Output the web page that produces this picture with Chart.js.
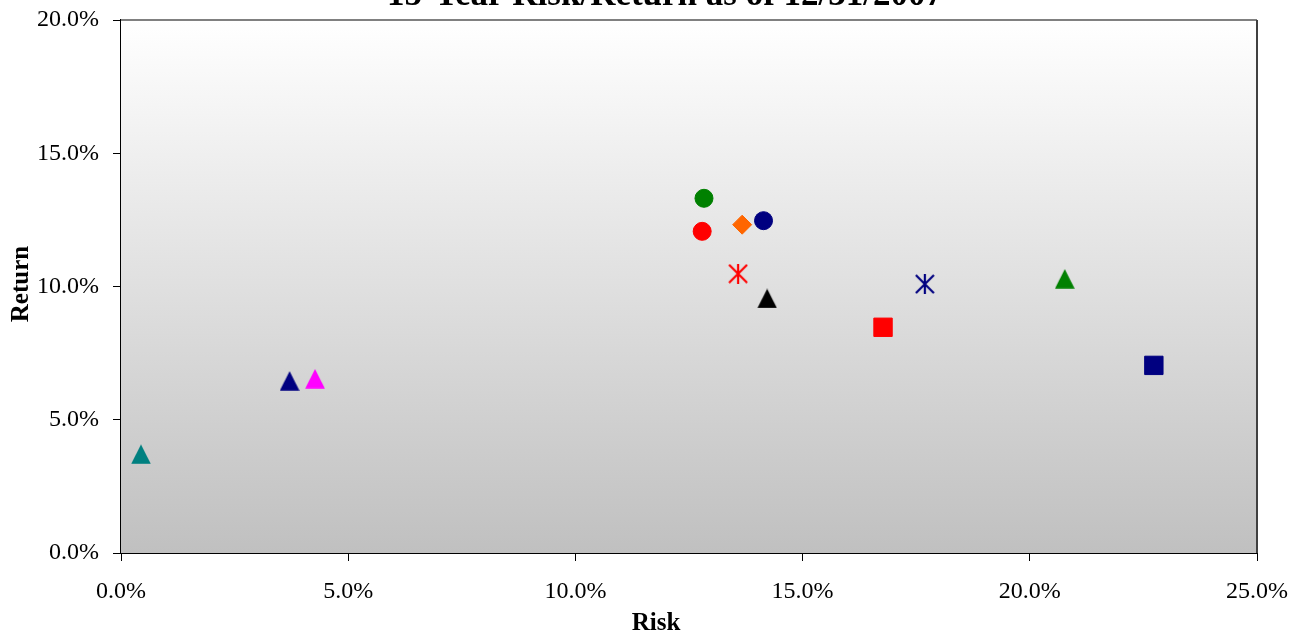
<!DOCTYPE html>
<html>
<head>
<meta charset="utf-8">
<script src="https://cdn.jsdelivr.net/npm/chart.js@4/dist/chart.umd.min.js"></script>
<style>
  html, body { margin: 0; padding: 0; background: #ffffff; }
  #riskChart { display: block; }
</style>
</head>
<body>
<canvas id="riskChart" width="1295" height="635"></canvas>
<script>
// 15-year risk / return, one point per asset
const seriesNames = [
  'Asset 1', 'Asset 2', 'Asset 3', 'Asset 4', 'Asset 5', 'Asset 6', 'Asset 7',
  'Asset 8', 'Asset 9', 'Asset 10', 'Asset 11', 'Asset 12', 'Asset 13'
];
const riskValues = [0.44, 3.71, 4.27, 12.83, 12.79, 13.67, 14.14, 13.58, 14.22, 17.69, 16.77, 20.77, 22.73];
const returnValues = [3.71, 6.46, 6.54, 13.31, 12.07, 12.32, 12.47, 10.48, 9.55, 10.09, 8.47, 10.29, 7.04];

// marker look for each series (kept apart from the data)
const markerColors = ['#008080', '#000080', '#ff00ff', '#008000', '#ff0000', '#ff6600', '#000080',
  '#ff0000', '#000000', '#000080', '#ff0000', '#008000', '#000080'];
const markerShapes = ['triangle', 'triangle', 'triangle', 'circle', 'circle', 'diamond', 'circle',
  'asterisk', 'triangle', 'asterisk', 'square', 'triangle', 'square'];

const chartTitle = '15-Year Risk/Return as of 12/31/2007';
const xTitle = 'Risk';
const yTitle = 'Return';

// Excel style triangle and asterisk markers drawn on a small canvas
function markerCanvas(kind, color) {
  const c = document.createElement('canvas');
  c.width = 20;
  c.height = 20;
  const g = c.getContext('2d');
  if (kind === 'triangle') {
    g.fillStyle = color;
    g.beginPath();
    g.moveTo(0.2, 19.8);
    g.lineTo(10, 0.2);
    g.lineTo(19.8, 19.8);
    g.closePath();
    g.fill();
  } else {
    g.strokeStyle = color;
    g.lineWidth = 2.2;
    g.beginPath();
    g.moveTo(10, 0);
    g.lineTo(10, 20);
    g.moveTo(1, 1);
    g.lineTo(19, 19);
    g.moveTo(19, 1);
    g.lineTo(1, 19);
    g.stroke();
  }
  return c;
}

function pointLook(kind, color) {
  if (kind === 'triangle' || kind === 'asterisk') {
    return { pointStyle: markerCanvas(kind, color), pointRadius: 10 };
  }
  if (kind === 'circle') return { pointStyle: 'circle', pointRadius: 9 };
  if (kind === 'diamond') return { pointStyle: 'rectRot', pointRadius: 9.5 };
  return { pointStyle: 'rect', pointRadius: 13 };
}

const datasets = seriesNames.map((name, i) => {
  const look = pointLook(markerShapes[i], markerColors[i]);
  return {
    label: name,
    data: [{ x: riskValues[i], y: returnValues[i] }],
    backgroundColor: markerColors[i],
    borderColor: markerColors[i],
    pointBorderWidth: 1,
    pointStyle: look.pointStyle,
    pointRadius: look.pointRadius,
    pointHoverRadius: look.pointRadius
  };
});

// gradient plot area, border and the text around it
const excelFrame = {
  id: 'excelFrame',
  beforeDatasetsDraw(chart) {
    const { ctx, chartArea: a } = chart;
    ctx.save();
    const grad = ctx.createLinearGradient(0, a.top, 0, a.bottom);
    grad.addColorStop(0, '#ffffff');
    grad.addColorStop(1, '#c0c0c0');
    ctx.fillStyle = grad;
    ctx.fillRect(a.left, a.top, a.right - a.left, a.bottom - a.top);
    ctx.lineWidth = 2;
    ctx.strokeStyle = '#808080';
    ctx.beginPath();
    ctx.moveTo(a.left, a.top);
    ctx.lineTo(a.right, a.top);
    ctx.stroke();
    ctx.strokeStyle = '#404040';
    ctx.beginPath();
    ctx.moveTo(a.right, a.top);
    ctx.lineTo(a.right, a.bottom);
    ctx.stroke();
    ctx.restore();
  },
  afterDraw(chart) {
    const { ctx } = chart;
    ctx.save();
    ctx.fillStyle = '#000000';
    ctx.textAlign = 'center';
    ctx.textBaseline = 'alphabetic';
    ctx.font = 'bold 35px "Liberation Serif"';
    ctx.fillText(chartTitle, 665, 5);
    ctx.font = 'bold 25px "Liberation Serif"';
    ctx.fillText(xTitle, 656, 630);
    ctx.translate(28, 284);
    ctx.rotate(-Math.PI / 2);
    ctx.fillText(yTitle, 0, 0);
    ctx.restore();
  }
};

const tickFont = { family: '"Liberation Serif"', size: 24 };

new Chart(document.getElementById('riskChart').getContext('2d'), {
  type: 'scatter',
  data: { datasets },
  options: {
    responsive: false,
    animation: false,
    devicePixelRatio: 1,
    layout: { padding: { left: 0, right: 38, top: 20, bottom: 0 } },
    plugins: {
      legend: { display: false },
      title: { display: false },
      tooltip: { enabled: false }
    },
    scales: {
      x: {
        type: 'linear',
        min: 0,
        max: 25,
        afterFit: (scale) => {
          scale.height = 82;
          scale.paddingLeft = 0;
          scale.paddingRight = 0;
        },
        border: { color: '#000000', width: 2 },
        grid: { drawOnChartArea: false, drawTicks: true, tickLength: 8, color: '#000000' },
        ticks: {
          stepSize: 5,
          padding: 16,
          color: '#000000',
          font: tickFont,
          callback: (v) => v.toFixed(1) + '%'
        }
      },
      y: {
        type: 'linear',
        min: 0,
        max: 20,
        afterFit: (scale) => {
          scale.width = 121;
          scale.paddingTop = 0;
          scale.paddingBottom = 0;
        },
        border: { color: '#000000', width: 2 },
        grid: { drawOnChartArea: false, drawTicks: true, tickLength: 8, color: '#000000' },
        ticks: {
          stepSize: 5,
          padding: 14,
          color: '#000000',
          font: tickFont,
          callback: (v) => v.toFixed(1) + '%'
        }
      }
    }
  },
  plugins: [excelFrame]
});
</script>
</body>
</html>
